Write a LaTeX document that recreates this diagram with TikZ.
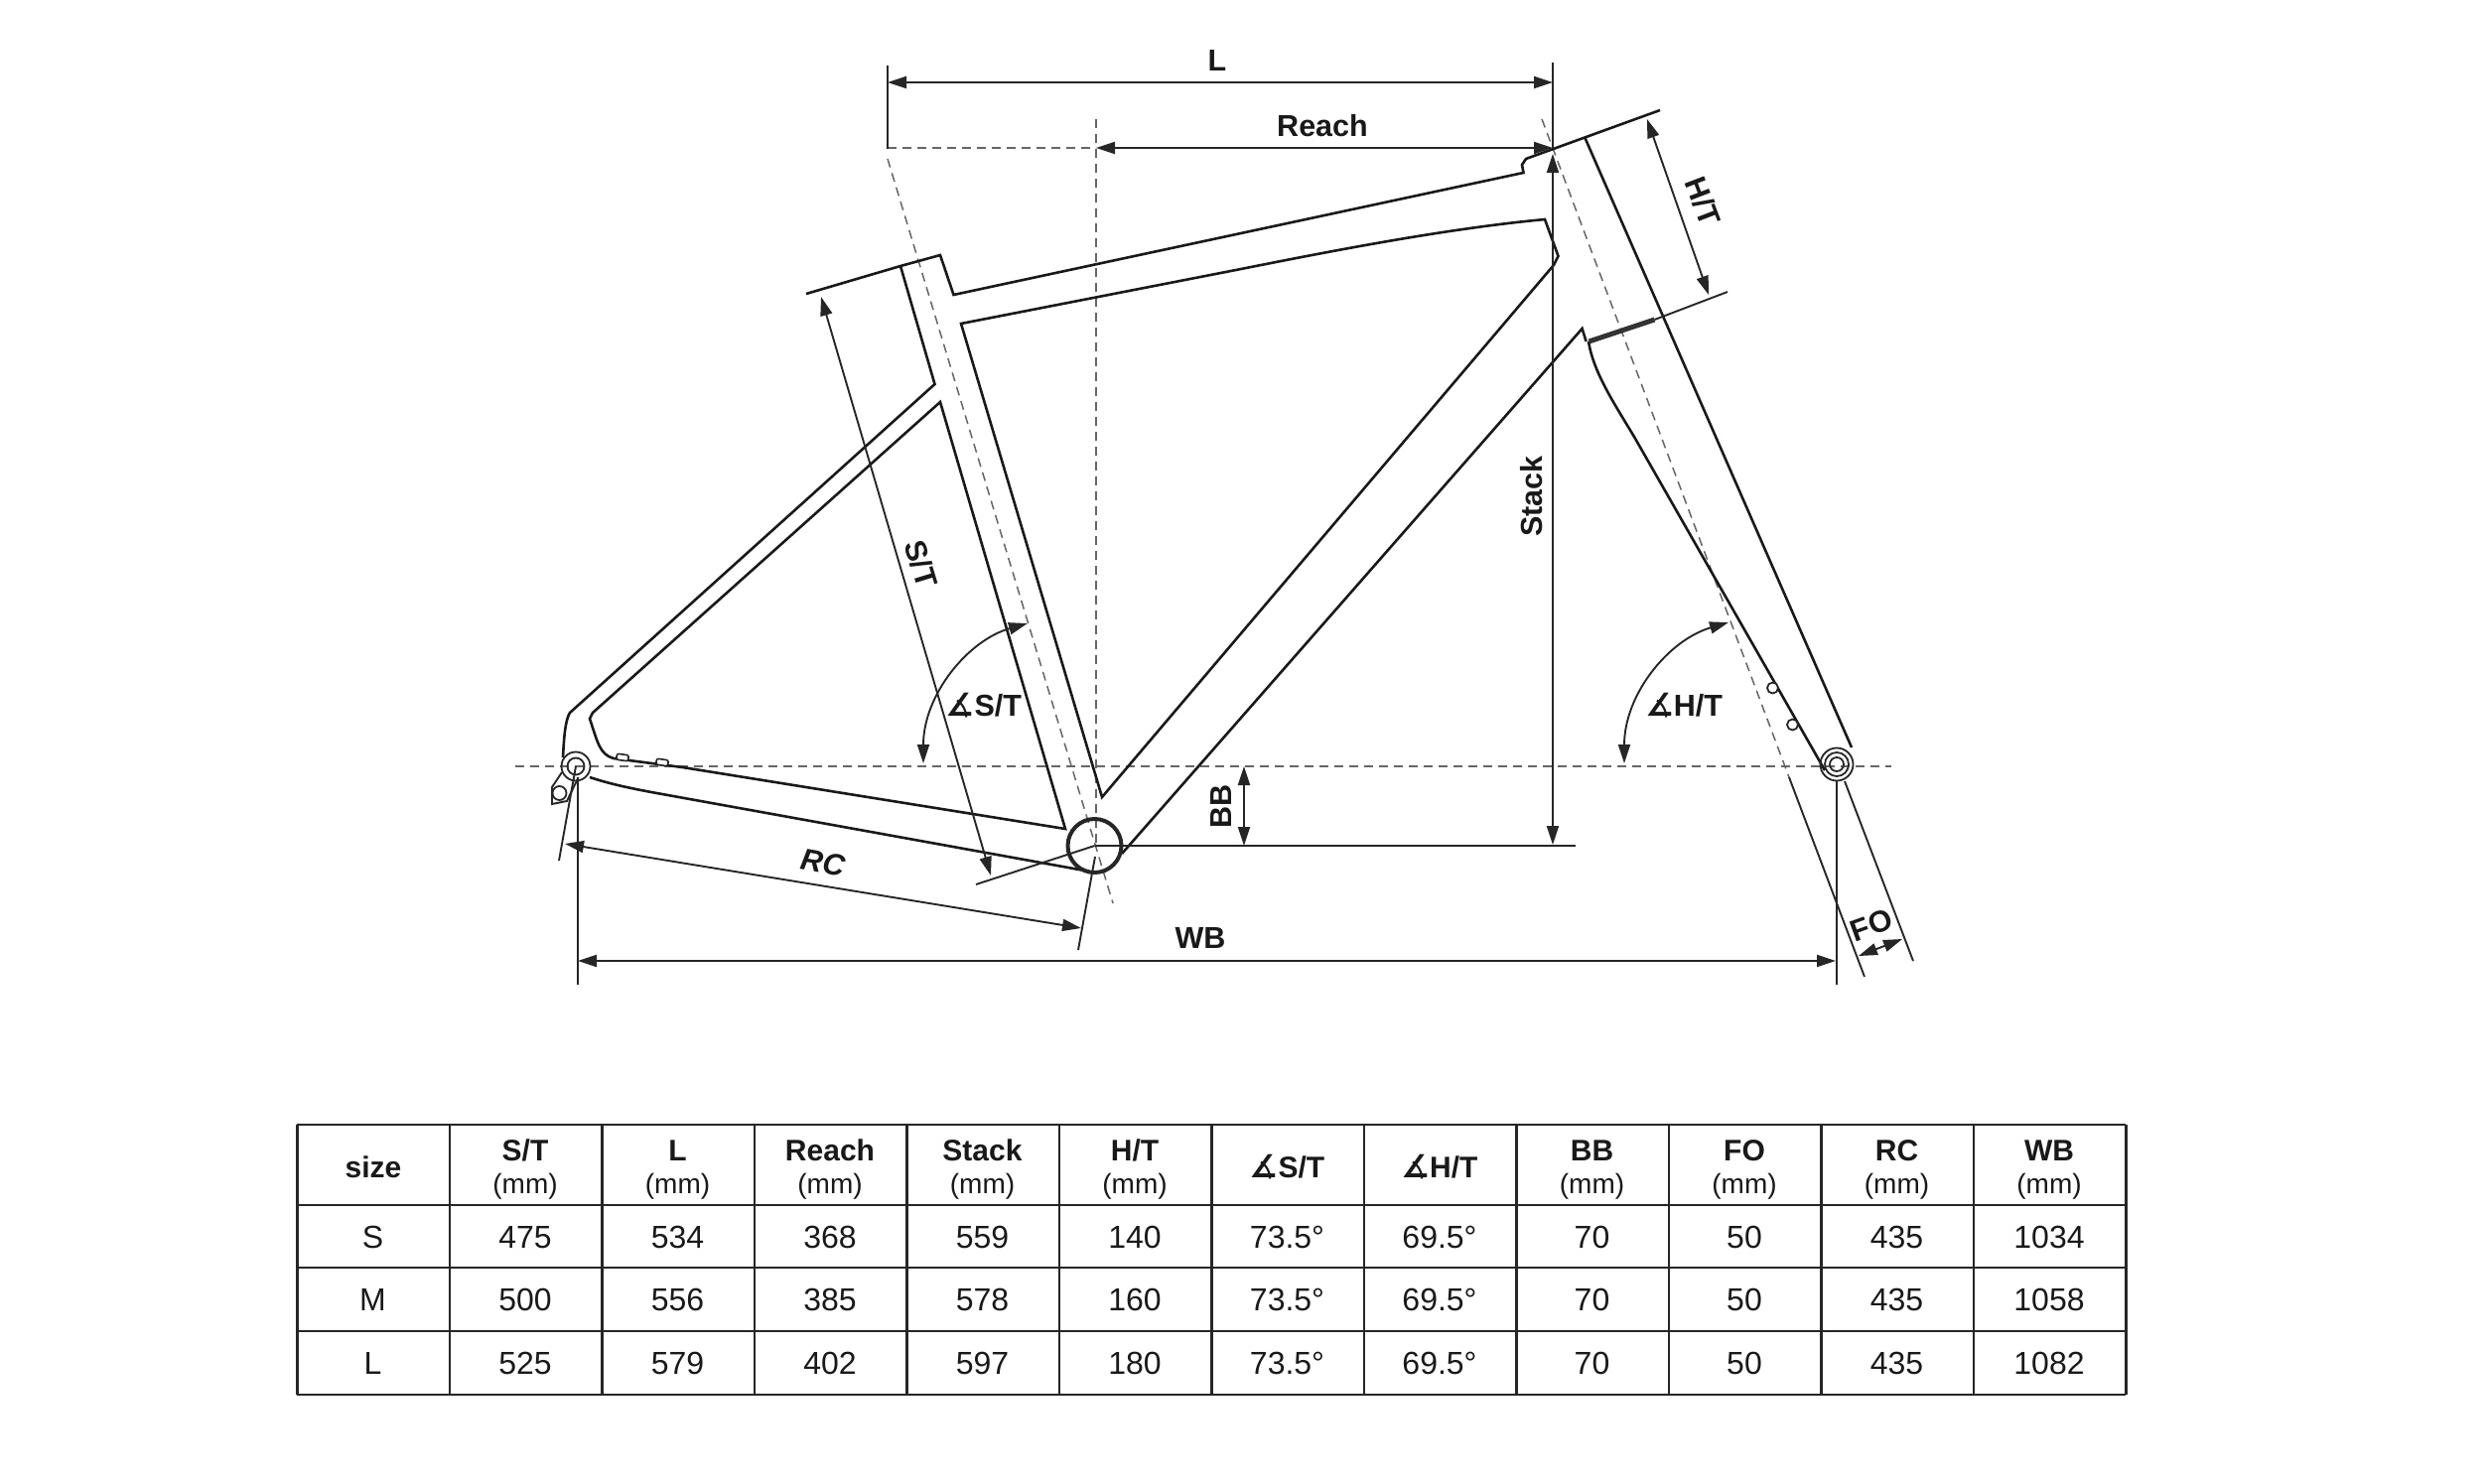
\documentclass[tikz,border=0pt]{standalone}
\usepackage{fontspec}
\setmainfont{Liberation Sans}
\newfontfamily\anglefont{DejaVu Sans}
\usetikzlibrary{arrows.meta, positioning}
\newcommand{\anglesign}{{\anglefont\fontsize{32}{34}\selectfont\char"2221}}

\begin{document}
\begin{tikzpicture}[x=1pt, y=-1pt, every node/.style={inner sep=0pt}]

% Styles
\tikzstyle{framepath} = [line width=2.6pt, black!90]
\tikzstyle{thinpath} = [line width=1.9pt, black!85]
\tikzstyle{dimline} = [{Triangle[length=19pt,width=12pt]}-{Triangle[length=19pt,width=12pt]}, line width=1.9pt, black!85]
\tikzstyle{axisline} = [line width=1.5pt, black!60, dash pattern=on 9pt off 6pt]
\tikzstyle{dimlabel} = [font=\fontsize{30.5}{34}\selectfont\bfseries, text=black!90]
\tikzstyle{ring} = [circle, draw, black!85, line width=1.8pt]
\tikzstyle{bump} = [draw, black!85, line width=1.6pt, fill=white, rounded corners=2pt, minimum width=12pt, minimum height=6pt, rotate=-8]
\tikzstyle{tablecell} = [anchor=base, font=\fontsize{32}{34}\selectfont, text=black!90]
\tikzstyle{tablehead} = [tablecell, font=\fontsize{30}{34}\selectfont\bfseries]
\tikzstyle{tableunit} = [tablecell, font=\fontsize{28}{30}\selectfont]
\tikzstyle{tableline} = [line width=2.2pt, black!85]

\useasboundingbox (0,0) rectangle (2506,1494);

% Axis lines
\draw[axisline] (519,772) -- (1905,772);
\draw[axisline] (894,149) -- (1104,149);
\draw[axisline] (1104,120) -- (1104,853);
\draw[axisline] (894,160) -- (1121,910);
\draw[axisline] (1553,120) -- (1802,783);

% Frame
\draw[framepath] (812,296) -- (907,268) -- (947,257) -- (960.5,297) -- (1534.5,174) -- (1533,166) -- (1537,160) -- (1672,111);
\draw[framepath] (907,268) -- (941.5,387) -- (574,718) .. controls (569,726) and (568,745) .. (567,763);
\draw[framepath] (968,326) -- (1250,271) .. controls (1350,251) and (1460,230) .. (1556,221) -- (1569.5,258) -- (1565,267) -- (1110,803) -- cycle;
\draw[framepath] (947,405) -- (1073,835) -- (687.5,773) -- (618,764) .. controls (604,760) and (602,748) .. (594,724) -- (597,718) -- cycle;
\draw[framepath] (594,783) .. controls (615,790) and (635,794) .. (656,798) -- (1098,878);
\draw[framepath] (1597.6,344) -- (1593.6,331) -- (1130,860);
\draw[framepath] (1596.5,139) -- (1865,753);
\draw[framepath] (1600,344) .. controls (1605,375) and (1625,405) .. (1646,440) -- (1838,776);
\draw[line width=5pt, black!80] (1600.5,344) -- (1666.5,322);
\draw[thinpath] (1666.5,322) -- (1740,294);

% Dropouts and shell
\node[circle, draw, black!85, line width=4pt, minimum size=54pt] (bbshell) at (1102.5,852) {};
\node[ring, minimum size=29pt] (rearaxle) at (580,772) {};
\node[ring, minimum size=17pt] (rearhub) at (580,772) {};
\node[ring, minimum size=14pt] (hanger) at (563.5,799) {};
\node[ring, minimum size=33pt] (frontaxle) at (1850,770) {};
\node[ring, minimum size=24pt] (fronthub) at (1850,770) {};
\node[ring, minimum size=14pt] (frontpin) at (1850,770) {};
\node[ring, minimum size=11pt, fill=white] (forkboss) at (1785.5,693) {};
\node[ring, minimum size=11pt, fill=white] (forkbosslow) at (1805.5,730) {};
\node[bump] (stayboss) at (627,763) {};
\node[bump] (staybosslow) at (667,768) {};
\draw[thinpath] (566,778) -- (556,793) -- (556,810) -- (571,807) -- (582.6,783);

% Extension lines
\draw[thinpath] (894,66) -- (894,150);
\draw[thinpath] (1564,63) -- (1564,150);
\draw[thinpath] (563,867) -- (rearaxle.center);
\draw[thinpath] (1086,957) -- (1103,863);
\draw[thinpath] (582,783) -- (582,992);
\draw[thinpath] (1850,787) -- (1850,992);
\draw[thinpath] (1802,783) -- (1878,984);
\draw[thinpath] (1858,787) -- (1927,968);
\draw[thinpath] (983,891) -- (bbshell.center);
\draw[thinpath] (bbshell.center) -- (1587,852);

% Dimensions
\draw[dimline] (894,83) -- (1564,83);
\draw[dimline] (1104,149) -- (1564,149);
\draw[dimline] (1564,155) -- (1564,851);
\draw[dimline] (1659,120) -- (1721,297);
\draw[dimline] (827,299) -- (998,882);
\draw[dimline] (1253,772) -- (1253,852);
\draw[dimline] (569,850) -- (1089,935);
\draw[dimline] (582,968) -- (1849,968);
\draw[dimline] (1872,963) -- (1916,946);
\draw[dimline] (1035,628) .. controls (975,645) and (930,700) .. (930,769);
\draw[dimline] (1741,627) .. controls (1680,645) and (1636,700) .. (1636,769);

% Labels
\node[dimlabel] (llabel) at (1226,61) {L};
\node[dimlabel] (reachlabel) at (1332,127) {Reach};
\node[dimlabel, rotate=90] (stacklabel) at (1543,500) {Stack};
\node[dimlabel, rotate=-69] (htlabel) at (1715,203) {H/T};
\node[dimlabel, rotate=-73] (stlabel) at (928,568) {S/T};
\node[dimlabel, rotate=90] (bblabel) at (1230,812) {BB};
\node[dimlabel, rotate=20] (folabel) at (1885,932) {FO};
\node[dimlabel, font=\fontsize{30.5}{34}\selectfont\bfseries\itshape, rotate=-10] (rclabel) at (829,869) {RC};
\node[dimlabel] (wblabel) at (1209,945) {WB};
\node[dimlabel] (stangle) at (991,711) {\anglesign S/T};
\node[dimlabel] (htangle) at (1696,711) {\anglesign H/T};

% Table
\foreach \rowy in {1133,1214,1277,1341,1405}
  \draw[tableline] (299,\rowy) -- (2141,\rowy);
\foreach \i in {0,...,12}
  \draw[tableline] ({299.5+153.5*\i},1133) -- ({299.5+153.5*\i},1405);

\node[tablehead] (sizehead) at (376,1186) {size};
\foreach \head [count=\i] in {S/T,L,Reach,Stack,H/T} {
  \node[tablehead] (head\i) at ({375.5+153.5*\i},1169) {\head};
  \node[tableunit] (unit\i) at ({375.5+153.5*\i},1202) {(mm)};
}
\foreach \head [count=\i from 6] in {S/T,H/T}
  \node[tablehead] (head\i) at ({375.5+153.5*\i},1186) {\anglesign\head};
\foreach \head [count=\i from 8] in {BB,FO,RC,WB} {
  \node[tablehead] (head\i) at ({375.5+153.5*\i},1169) {\head};
  \node[tableunit] (unit\i) at ({375.5+153.5*\i},1202) {(mm)};
}
\foreach \rowy/\vals in {1257/{S,475,534,368,559,140,73.5°,69.5°,70,50,435,1034},
                         1320.5/{M,500,556,385,578,160,73.5°,69.5°,70,50,435,1058},
                         1384/{L,525,579,402,597,180,73.5°,69.5°,70,50,435,1082}}
  \foreach \val [count=\i from 0] in \vals
    \node[tablecell] (cell\rowy-\i) at ({375.5+153.5*\i},\rowy) {\val};

\end{tikzpicture}
\end{document}
